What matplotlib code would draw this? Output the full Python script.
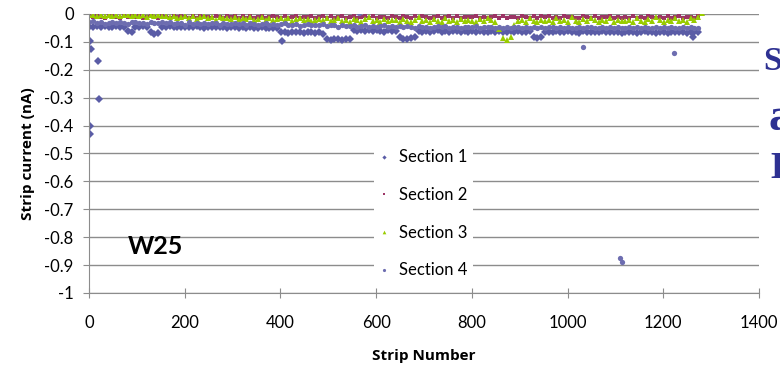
import numpy as np
import matplotlib
matplotlib.use("Agg")
import matplotlib.pyplot as plt

plt.rcParams['font.family'] = ['Lato', 'DejaVu Sans']

# strips sampled every 8th strip, values in pA (converted to nA below)
strips = np.arange(1, 1281, 8)

sec1_pA = [
    -45, -48, -44, -46, -43, -45, -47, -44, -46, -45, -62, -66, -47, -45, -44, -48, -66, -70, -67, -46,
    -46, -44, -47, -45, -48, -46, -45, -47, -44, -46, -49, -47, -45, -48, -46, -47, -50, -48, -46, -49,
    -48, -50, -47, -49, -51, -48, -50, -52, -49, -51, -66, -64, -67, -65, -63, -66, -68, -65, -64, -67,
    -66, -70, -90, -92, -89, -91, -93, -90, -88, -58, -60, -57, -61, -59, -62, -58, -60, -63, -59, -61,
    -62, -84, -89, -90, -87, -83, -61, -63, -60, -64, -62, -59, -63, -61, -64, -60, -62, -65, -61, -63,
    -62, -64, -61, -65, -63, -60, -64, -62, -66, -63, -61, -64, -62, -65, -63, -61, -82, -86, -84, -64,
    -63, -65, -62, -66, -64, -61, -65, -63, -67, -62, -64, -66, -63, -65, -62, -64, -66, -63, -65, -67,
    -64, -66, -63, -67, -65, -62, -66, -64, -68, -65, -63, -67, -64, -66, -63, -65, -67, -64, -66, -65,
]
sec1_out_strip = [3, 4, 20, 21, 2, 3, 404, 1262]
sec1_out_pA = [-97, -125, -170, -305, -400, -430, -97, -83]

sec2_pA = [
    -8, -12, -6, -10, -14, -9, -7, -11, -13, -8, -10, -6, -12, -9, -15, -11, -7, -10, -13, -8,
    -10, -14, -8, -12, -6, -11, -15, -9, -13, -7, -12, -10, -16, -8, -11, -14, -9, -12, -7, -13,
    -9, -13, -7, -15, -11, -8, -14, -10, -6, -12, -16, -9, -13, -11, -7, -15, -10, -12, -8, -14,
    -11, -7, -15, -9, -13, -10, -6, -14, -12, -8, -16, -11, -9, -13, -7, -15, -10, -12, -14, -8,
    -10, -14, -8, -12, -16, -9, -13, -7, -11, -15, -10, -8, -14, -12, -6, -13, -9, -15, -11, -10,
    -12, -8, -14, -10, -16, -11, -7, -13, -9, -15, -12, -10, -14, -8, -11, -16, -9, -13, -7, -12,
    -9, -13, -11, -15, -8, -12, -10, -14, -16, -9, -11, -13, -7, -15, -10, -12, -8, -14, -11, -13,
    -11, -15, -9, -13, -10, -14, -8, -12, -16, -10, -13, -9, -15, -11, -7, -14, -12, -10, -13, -9,
]

sec3_pA = [
    -5, -3, -8, -2, -6, -4, -9, -3, -7, -5, -2, -8, -4, -6, -3, -10, -5, -7, -4, -6,
    -8, -12, -6, -15, -10, -7, -14, -9, -18, -11, -8, -16, -12, -20, -10, -15, -13, -18, -11, -17,
    -14, -19, -12, -22, -17, -10, -20, -15, -23, -18, -13, -21, -16, -24, -19, -14, -22, -17, -25, -20,
    -18, -23, -15, -26, -20, -13, -24, -21, -27, -17, -22, -28, -19, -12, -25, -21, -27, -18, -24, -20,
    -22, -27, -17, -25, -30, -20, -12, -26, -23, -29, -19, -24, -28, -14, -25, -21, -27, -18, -26, -23,
    -24, -28, -18, -26, -13, -22, -27, -55, -85, -95, -82, -40, -25, -20, -27, -15, -24, -29, -21, -26,
    -23, -28, -16, -25, -21, -29, -12, -24, -27, -19, -26, -14, -23, -28, -20, -25, -13, -27, -22, -24,
    -26, -20, -28, -14, -24, -27, -18, -25, -12, -23, -28, -21, -26, -15, -24, -20, -27, -16, -22, -10,
]
sec3_out_strip = [1280]
sec3_out_pA = [3]

sec4_pA = [
    -30, -26, -33, -28, -35, -31, -27, -34, -29, -32, -36, -30, -28, -33, -31, -35, -29, -32, -34, -30,
    -33, -29, -36, -31, -34, -38, -30, -35, -32, -37, -33, -36, -31, -34, -38, -32, -35, -37, -33, -36,
    -34, -38, -32, -36, -40, -35, -33, -39, -36, -41, -37, -34, -40, -38, -35, -42, -39, -36, -41, -38,
    -40, -37, -43, -39, -41, -45, -38, -42, -44, -40, -46, -43, -39, -45, -42, -47, -44, -41, -46, -43,
    -45, -42, -48, -44, -46, -50, -43, -47, -45, -49, -46, -43, -48, -44, -50, -47, -45, -49, -46, -48,
    -47, -44, -50, -46, -48, -45, -51, -47, -49, -46, -52, -48, -45, -50, -47, -49, -46, -51, -48, -50,
    -48, -45, -51, -47, -50, -46, -49, -52, -47, -50, -48, -45, -51, -49, -46, -50, -48, -52, -47, -49,
    -49, -46, -52, -48, -50, -47, -51, -49, -46, -52, -48, -50, -47, -51, -49, -46, -50, -48, -52, -49,
]
sec4_out_strip = [1032, 1222, 564, 1110, 1113]
sec4_out_pA = [-118, -141, 5, -875, -890]

series = [
    ("Section 1", sec1_pA, sec1_out_strip, sec1_out_pA, "#5A5CA6", "D", 3.6),
    ("Section 2", sec2_pA, [], [], "#9C3566", "s", 3.2),
    ("Section 3", sec3_pA, sec3_out_strip, sec3_out_pA, "#99CC00", "^", 4.4),
    ("Section 4", sec4_pA, sec4_out_strip, sec4_out_pA, "#6D6DB0", "o", 3.8),
]

fig = plt.figure(figsize=(7.8, 3.72), dpi=100)
ax = fig.add_axes([0.114, 0.2124, 0.859, 0.75])

for label, vals, ostr, oval, color, marker, ms in series:
    x = np.concatenate([strips, ostr])
    y = np.concatenate([np.array(vals, float), np.array(oval, float)]) / 1000.0
    ax.plot(x, y, linestyle="none", marker=marker, markersize=ms,
            color=color, markeredgewidth=0, label=label)

ax.set_xlim(0, 1400)
ax.set_ylim(-1, 0)
ax.set_xticks(np.arange(0, 1401, 200))
ax.set_yticks(np.round(np.arange(-1, 0.01, 0.1), 1))
ax.set_yticklabels(["-1"] + [f"{v:.1f}" for v in np.arange(-0.9, -0.05, 0.1)] + ["0"])
ax.grid(axis="y", color="#8c8c8c", linewidth=1)
ax.set_axisbelow(True)
for s in ("top", "right"):
    ax.spines[s].set_visible(False)
for s in ("left", "bottom"):
    ax.spines[s].set_color("#8c8c8c")
ax.tick_params(axis="x", direction="inout", length=7, color="#8c8c8c", pad=12, labelsize=12)
ax.tick_params(axis="y", direction="out", length=4, color="#8c8c8c", pad=7, labelsize=12)

ax.set_xlabel("Strip Number", fontsize=11, fontweight="bold", family="Open Sans", labelpad=13)
ax.set_ylabel("Strip current (nA)", fontsize=11, fontweight="bold", family="Open Sans", labelpad=7)

ax.text(140, -0.835, "W25", fontsize=18, fontweight="bold", ha="center", va="center")

leg = ax.legend(loc="upper left", bbox_to_anchor=(366 / 780, 1 - 136 / 372),
                bbox_transform=fig.transFigure, fontsize=12, frameon=True,
                facecolor="white", edgecolor="none", framealpha=1, fancybox=False,
                handlelength=0.6, handletextpad=0.6, labelspacing=1.3, borderpad=0.3,
                markerscale=0.6)

# partially visible slide text at the right edge
blue = "#2E3192"
fig.text(763 / 780, 1 - 70 / 372, "S", color=blue, fontsize=24, fontweight="bold",
         family="Liberation Serif", va="baseline", ha="left")
fig.text(769 / 780, 1 - 130 / 372, "a", color=blue, fontsize=34, fontweight="bold",
         family="Liberation Serif", va="baseline", ha="left")
fig.text(770 / 780, 1 - 178 / 372, "L", color=blue, fontsize=27, fontweight="bold",
         family="Liberation Serif", va="baseline", ha="left")

fig.savefig("out.png", dpi=100)
